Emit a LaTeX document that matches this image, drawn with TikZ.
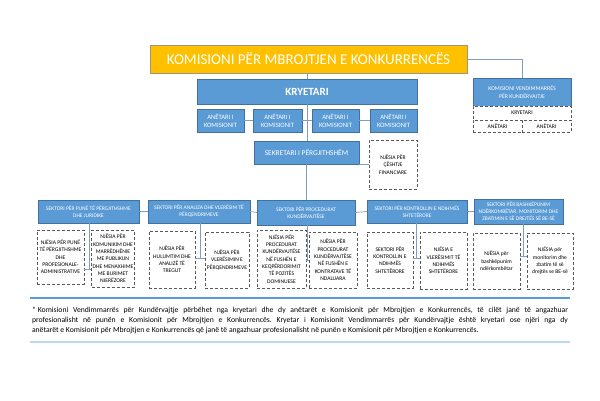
\documentclass[tikz,border=0pt]{standalone}
\usepackage{fontspec}
\setmainfont{Carlito}
\definecolor{kblue}{RGB}{91,155,213}
\definecolor{kborder}{RGB}{65,113,156}
\definecolor{korange}{RGB}{255,192,0}
\definecolor{tborder}{RGB}{160,150,120}
\definecolor{lineblue}{RGB}{127,157,191}
\definecolor{dgray}{RGB}{89,89,89}
\definecolor{lightrule}{RGB}{189,215,238}
\newcommand\mybox[7]{\node[#6, minimum width={(#4-#2)*1pt}, minimum height={(#5-#3)*1pt}] (#1) at ({(#2+#4)/2},{(#3+#5)/2}) {#7};}
\tikzset{
  bluebox/.style={fill=kblue, draw=kborder, line width=0.4pt, text=white, inner sep=1pt, align=center},
  dbox/.style={fill=white, draw=dgray, densely dashed, line width=0.6pt, text=black, inner sep=1pt, align=center, font=\fontsize{5.6}{7.3}\selectfont},
  secfont/.style={font=\fontsize{5.5}{6.7}\selectfont},
  conn/.style={draw=lineblue, line width=0.7pt},
}
\frenchspacing
\begin{document}
\begin{tikzpicture}[x=1pt,y=-1pt]
\useasboundingbox (0,0) rectangle (600,400);
\fill[white] (0,0) rectangle (600,400);
% title
\mybox{title}{150}{45}{467}{73}{fill=korange, draw=tborder, line width=0.8pt, text=white, font=\fontsize{15}{18}\selectfont}{KOMISIONI PËR MBROJTJEN E KONKURRENCËS}
% kryetari
\mybox{kry}{197}{79}{417}{104}{bluebox, font=\fontsize{11}{13}\selectfont\bfseries}{KRYETARI}
\mybox{a1}{197}{109}{244}{132}{bluebox, font=\fontsize{6.6}{7.8}\selectfont}{ANËTARI I\\KOMISIONIT}
\mybox{a2}{253}{109}{302}{132}{bluebox, font=\fontsize{6.6}{7.8}\selectfont}{ANËTARI I\\KOMISIONIT}
\mybox{a3}{312}{109}{359}{132}{bluebox, font=\fontsize{6.6}{7.8}\selectfont}{ANËTARI I\\KOMISIONIT}
\mybox{a4}{370}{109}{417}{132}{bluebox, font=\fontsize{6.6}{7.8}\selectfont}{ANËTARI I\\KOMISIONIT}
% right commission
\mybox{kvk}{473}{78}{571}{106}{bluebox, font=\fontsize{5.8}{7.5}\selectfont}{KOMISIONI VENDIMMARRËS\\PËR KUNDËRVAJTJE}
\mybox{kvkk}{473}{106}{571}{120}{dbox, font=\fontsize{5.6}{7}\selectfont}{KRYETARI}
\mybox{kvka}{473}{120}{522}{132}{dbox, font=\fontsize{5.6}{7}\selectfont}{ANËTARI}
\mybox{kvkb}{522}{120}{571}{132}{dbox, font=\fontsize{5.6}{7}\selectfont}{ANËTARI}
% sekretari
\mybox{sek}{254}{141}{359}{164}{bluebox, font=\fontsize{7.4}{9}\selectfont}{SEKRETARI I PËRGJITHSHËM}
\mybox{fin}{369}{140}{417}{189}{dbox}{NJËSIA PËR\\ÇËSHTJE\\FINANCIARE}
% sectors
\mybox{s1}{38}{200}{139}{223}{bluebox, secfont}{SEKTORI PËR PUNË TË PËRGJITHSHME\\DHE JURIDIKE}
\mybox{s2}{148}{200}{250}{223}{bluebox, secfont}{SEKTORI PËR ANALIZA DHE VLERËSIM TË\\PËRQENDRIMEVE}
\mybox{s3}{257}{200}{355}{225}{bluebox, secfont}{SEKTORI PËR PROCEDURAT\\KUNDËRVAJTËSE}
\mybox{s4}{367}{200}{467}{223}{bluebox, secfont}{SEKTORI PËR KONTROLLIN E NDIHMËS\\SHTETËRORE}
\mybox{s5}{474}{199}{563}{224}{bluebox, secfont}{SEKTORI PËR BASHKËPUNIM\\NDËRKOMBËTAR, MONITORIM DHE\\ZBATIMIN E SË DREJTËS SË BE-SË}
% units
\mybox{uA}{37}{230}{84}{284}{dbox}{NJËSIA PËR PUNË\\TË PËRGJITHSHME\\DHE\\PROFESIONALE-\\ADMINISTRATIVE}
\mybox{uB}{94}{230}{132}{287}{dbox}{NJËSIA PËR\\KOMUNIKIM DHE\\MARRËDHËNIE\\ME PUBLIKUN\\DHE MENAXHIME\\ME BURIMET\\NJERËZORE}
\mybox{uC}{149}{231}{195}{288}{dbox}{NJËSIA PËR\\HULUMTIM DHE\\ANALIZË TË\\TREGUT}
\mybox{uD}{205}{232}{249}{288}{dbox}{NJËSIA PËR\\VLERËSIMIN E\\PËRQENDRIMEVE}
\mybox{uE}{257}{230}{306}{288}{dbox}{NJËSIA PËR\\PROCEDURAT\\KUNDËRVAJTËSE\\NË FUSHËN E\\KEQPËRDORIMIT\\TË POZITËS\\DOMINUESE}
\mybox{uF}{309}{232}{357}{288}{dbox}{NJËSIA PËR\\PROCEDURAT\\KUNDËRVAJTËSE\\NË FUSHËN E\\KONTRATAVE TË\\NDALUARA}
\mybox{uG}{367}{232}{413}{288}{dbox}{SEKTORI PËR\\KONTROLLIN E\\NDIHMËS\\SHTETËRORE}
\mybox{uH}{420}{232}{467}{289}{dbox}{NJËSIA E\\VLERËSIMIT TË\\NDIHMËS\\SHTETËRORE}
\mybox{uI}{473}{233}{520}{289}{dbox}{NJËSIA për\\bashkëpunim\\ndërkombëtar}
\mybox{uJ}{527}{233}{573}{289}{dbox}{NJËSIA për\\monitorim dhe\\zbatim të së\\drejtës se BE-së}
% connectors
\draw[conn] (kry.north) -- (kry.north |- title.south);
\draw[conn] (title.east) -| (kvk.north);
\draw[conn] (kry.south) -- (sek.north -| kry.south);
\draw[conn] (a1.east) -- (a2.west);
\draw[conn] (a2.east) -- (a3.west);
\draw[conn] (a3.east) -- (a4.west);
\draw[conn] ([yshift=-0.5pt]sek.south east) -- ([yshift=-0.5pt]sek.south east -| fin.west);
\draw[conn] (sek.south) -- (s3.north -| sek.south);
\draw[conn] (s1.east) -- (s2.west);
\draw[conn] (s2.east) -- (s3.west);
\draw[conn] (s3.east) -- (s4.west);
\draw[conn] (s4.east) -- (s5.west);
\coordinate (j1) at (89,269);
\coordinate (j2) at (200,258);
\coordinate (j3) at (307.5,260);
\coordinate (j4) at (416.5,258);
\coordinate (j5) at (523.5,256);
\draw[conn] (s1.south -| j1) -- (j1);
\draw[conn] (uA.east |- j1) -- (uB.west |- j1);
\draw[conn] (s2.south -| j2) -- (j2);
\draw[conn] (uC.east |- j2) -- (uD.west |- j2);
\draw[conn] (s3.south -| j3) -- (j3);
\draw[conn] (uE.east |- j3) -- (uF.west |- j3);
\draw[conn] (s4.south -| j4) -- (j4);
\draw[conn] (uG.east |- j4) -- (uH.west |- j4);
\draw[conn] (s5.south -| j5) -- (j5);
\draw[conn] (uI.east |- j5) -- (uJ.west |- j5);
% footnote
\coordinate (r1a) at (30,298);
\coordinate (r1b) at (570,298);
\draw[draw=kblue, line width=2.2pt] (r1a) -- (r1b);
\node[text width=536pt, align=justify, inner sep=0pt, font=\fontsize{7.7}{10}\selectfont] (foot) at (300,320) {*\kern2pt Komisioni Vendimmarrës për Kundërvajtje përbëhet nga kryetari dhe dy anëtarët e Komisionit për Mbrojtjen e Konkurrencës, të cilët janë të angazhuar\linebreak profesionalisht në punën e Komisionit për Mbrojtjen e Konkurrencës. Kryetar i Komisionit Vendimmarrës për Kundërvajtje është kryetari ose njëri nga dy\linebreak anëtarët e Komisionit për Mbrojtjen e Konkurrencës që janë të angazhuar profesionalisht në punën e Komisionit për Mbrojtjen e Konkurrencës.};
\coordinate (r2a) at (30,342);
\coordinate (r2b) at (570,342);
\draw[draw=lightrule, line width=1.4pt] (r2a) -- (r2b);
\end{tikzpicture}
\end{document}
